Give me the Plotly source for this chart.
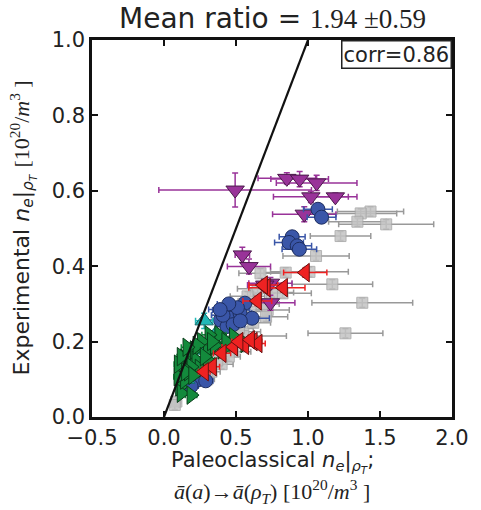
import plotly.graph_objects as go

# ---- data ----
gray_x = [1.434, 1.366, 1.343, 1.543, 1.226, 1.056, 1.169, 1.377, 1.26, 1.01, 0.845, 0.67, 0.823, 0.72, 0.709,
          0.381, 0.483, 0.551, 0.086, 0.075, 0.62, 0.60, 0.55, 0.50, 0.45, 0.40, 0.35, 0.33, 0.30, 0.65, 0.75,
          0.68, 0.58, 0.43, 0.55, 0.52, 0.47, 0.37]
gray_y = [0.545, 0.540, 0.518, 0.511, 0.480, 0.427, 0.352, 0.303, 0.222, 0.385, 0.383, 0.381, 0.328, 0.284, 0.266,
          0.186, 0.173, 0.226, 0.041, 0.032, 0.250, 0.280, 0.300, 0.200, 0.160, 0.140, 0.170, 0.120, 0.100, 0.340,
          0.330, 0.300, 0.320, 0.270, 0.215, 0.235, 0.195, 0.150]
gray_xerr = [0.23, 0.25, 0.20, 0.33, 0.21, 0.23, 0.28, 0.35, 0.26, 0.27, 0.15, 0.15, 0.20, 0.15, 0.15,
             0.10, 0.12, 0.12, 0.03, 0.03, 0.12, 0.10, 0.12, 0.10, 0.08, 0.08, 0.07, 0.06, 0.05, 0.14, 0.15,
             0.12, 0.12, 0.10, 0.30, 0.10, 0.08, 0.06]
gray_yerr = [0.012] * len(gray_x)

purple_x = [0.494, 0.853, 0.942, 1.06, 1.02, 1.19, 0.974, 0.544, 0.59, 0.739, 0.739, 0.70]
purple_y = [0.602, 0.633, 0.631, 0.621, 0.584, 0.584, 0.538, 0.430, 0.399, 0.355, 0.303, 0.350]
purple_xerr = [0.53, 0.20, 0.20, 0.28, 0.26, 0.15, 0.22, 0.05, 0.15, 0.15, 0.17, 0.12]
purple_yerr = [0.045, 0.015, 0.020, 0.020, 0.015, 0.010, 0.020, 0.020, 0.020, 0.015, 0.020, 0.015]

blue_x = [1.069, 1.094, 0.89, 0.868, 0.925, 0.94, 0.562, 0.494, 0.4375, 0.392, 0.46, 0.528, 0.612, 0.4375,
          0.48, 0.51, 0.41, 0.53, 0.234, 0.188, 0.29, 0.45, 0.39]
blue_y = [0.551, 0.530, 0.478, 0.463, 0.454, 0.445, 0.302, 0.284, 0.284, 0.257, 0.262, 0.275, 0.262, 0.240,
          0.245, 0.290, 0.270, 0.255, 0.098, 0.082, 0.096, 0.300, 0.285]
blue_xerr = [0.10, 0.10, 0.09, 0.10, 0.10, 0.12, 0.08, 0.10, 0.10, 0.10, 0.08, 0.08, 0.12, 0.08,
             0.08, 0.08, 0.08, 0.08, 0.06, 0.05, 0.05, 0.08, 0.08]
blue_yerr = [0.01] * len(blue_x)

red_x = [0.981, 0.709, 0.829, 0.69, 0.648, 0.336, 0.483, 0.403, 0.619, 0.653, 0.56, 0.52, 0.28, 0.60]
red_y = [0.383, 0.343, 0.343, 0.350, 0.308, 0.133, 0.186, 0.169, 0.200, 0.195, 0.190, 0.200, 0.120, 0.205]
red_xerr = [0.15, 0.12, 0.15, 0.10, 0.10, 0.05, 0.08, 0.06, 0.06, 0.05, 0.06, 0.05, 0.04, 0.06]
red_yerr = [0.012] * len(red_x)

green_x = [0.143, 0.132, 0.177, 0.211, 0.222, 0.245, 0.302, 0.302, 0.381, 0.483, 0.562, 0.403, 0.109, 0.12,
           0.188, 0.143, 0.098, 0.188, 0.313, 0.26, 0.17, 0.35, 0.10, 0.15, 0.23, 0.28, 0.20, 0.33, 0.43,
           0.12, 0.16]
green_y = [0.156, 0.133, 0.169, 0.178, 0.151, 0.129, 0.173, 0.151, 0.218, 0.213, 0.195, 0.178, 0.080, 0.063,
           0.058, 0.098, 0.107, 0.133, 0.218, 0.200, 0.120, 0.190, 0.140, 0.120, 0.190, 0.160, 0.110, 0.200,
           0.200, 0.160, 0.185]
green_xerr = [0.04, 0.04, 0.04, 0.05, 0.05, 0.05, 0.05, 0.05, 0.05, 0.06, 0.06, 0.05, 0.03, 0.03,
              0.04, 0.03, 0.03, 0.04, 0.05, 0.05, 0.04, 0.05, 0.03, 0.04, 0.05, 0.05, 0.04, 0.05, 0.06,
              0.03, 0.04]
green_yerr = [0.01] * len(green_x)

cyan_x = [0.279, 0.254, 0.30, 0.36, 0.15]
cyan_y = [0.255, 0.178, 0.130, 0.220, 0.100]
cyan_xerr = [0.06, 0.03, 0.03, 0.03, 0.02]
cyan_yerr = [0.02, 0.01, 0.01, 0.01, 0.01]

line_x = [-0.1, 1.1]
line_y = [-0.1, 1.1]

x_ticks = [-0.5, 0.0, 0.5, 1.0, 1.5, 2.0]
y_ticks = [0.0, 0.2, 0.4, 0.6, 0.8, 1.0]

fig = go.Figure()


def add_series(x, y, xe, ye, symbol, fill, edge, ecolor, size, opacity=1.0):
    fig.add_trace(go.Scatter(
        x=x, y=y, mode="markers",
        error_x=dict(type="data", array=xe, color=ecolor, thickness=1.5, width=3),
        error_y=dict(type="data", array=ye, color=ecolor, thickness=1.5, width=3),
        marker=dict(symbol=symbol, size=size, color=fill, opacity=opacity,
                    line=dict(color=edge, width=1)),
        showlegend=False))


add_series(gray_x, gray_y, gray_xerr, gray_yerr, "square", "#c4c4c4", "#a8a8a8", "#999999", 11, 0.85)
add_series(purple_x, purple_y, purple_xerr, purple_yerr, "triangle-down", "#993399", "#4a1a4a", "#993399", 16)
add_series(blue_x, blue_y, blue_xerr, blue_yerr, "circle", "#3a56a8", "#1e2e60", "#3a56a8", 14)
add_series(cyan_x, cyan_y, cyan_xerr, cyan_yerr, "triangle-up", "#22b8b8", "#136868", "#22b8b8", 16)
add_series(green_x, green_y, green_xerr, green_yerr, "triangle-right", "#138a3c", "#0a3d1a", "#138a3c", 16)
add_series(red_x, red_y, red_xerr, red_yerr, "triangle-left", "#ee2222", "#6a1010", "#ee2222", 16)

fig.add_trace(go.Scatter(x=line_x, y=line_y, mode="lines",
                         line=dict(color="#111111", width=2.2), showlegend=False))

axis_common = dict(showline=True, linecolor="#111111", linewidth=2.5, mirror="ticks",
                   ticks="inside", ticklen=6, tickwidth=1.5, tickcolor="#111111",
                   showgrid=False, zeroline=False,
                   tickfont=dict(family="DejaVu Sans", size=21, color="#222222"))

fig.update_layout(
    width=481, height=510,
    margin=dict(l=92, r=21, t=40, b=93),
    paper_bgcolor="white", plot_bgcolor="white",
    xaxis=dict(range=[-0.5, 2.0], tickvals=x_ticks, tickformat=".1f", **axis_common),
    yaxis=dict(range=[0.0, 1.0], tickvals=y_ticks, tickformat=".1f", **axis_common),
    font=dict(family="DejaVu Sans", color="#222222"),
)

fig.add_annotation(
    text="Mean ratio = <span style=\"font-family:'Liberation Serif'; font-size:27px\">1.94 ±0.59</span>",
    xref="paper", yref="paper", x=0.5, y=1.0, yshift=22, showarrow=False,
    font=dict(size=28, family="DejaVu Sans", color="#222222"), yanchor="middle", xanchor="center")

fig.add_annotation(
    text="corr=0.86", xref="paper", yref="paper", x=1.0, y=1.0, xanchor="right", yanchor="top",
    showarrow=False, bordercolor="#222222", borderwidth=1.5, borderpad=1, bgcolor="white",
    font=dict(size=21, family="DejaVu Sans", color="#222222"))

fig.add_annotation(
    text="Experimental <i>n<sub>e</sub></i>|<sub><i>ρ<sub>T</sub></i></sub> "
         "<span style=\"font-family:'Liberation Serif'\">[10<sup>20</sup>/<i>m</i><sup>3</sup> ]</span>",
    xref="paper", yref="paper", x=0, y=0.5, xshift=-70, textangle=-90, showarrow=False,
    xanchor="center", yanchor="middle",
    font=dict(size=22, family="DejaVu Sans", color="#222222"))

fig.add_annotation(
    text="Paleoclassical <i>n<sub>e</sub></i>|<sub><i>ρ<sub>T</sub></i></sub>;",
    xref="paper", yref="paper", x=0.5, y=0, yshift=-45, showarrow=False,
    xanchor="center", yanchor="middle",
    font=dict(size=21, family="DejaVu Sans", color="#222222"))

fig.add_annotation(
    text="<i>ā</i>(<i>a</i>)→<i>ā</i>(<i>ρ<sub>T</sub></i>) [10<sup>20</sup>/<i>m</i><sup>3</sup> ]",
    xref="paper", yref="paper", x=0.5, y=0, yshift=-74, showarrow=False,
    xanchor="center", yanchor="middle",
    font=dict(size=22, family="Liberation Serif", color="#222222"))

fig.write_html("out.html", config={"displayModeBar": False},
               post_script="document.body.style.margin='0px';document.body.style.overflow='hidden';")
